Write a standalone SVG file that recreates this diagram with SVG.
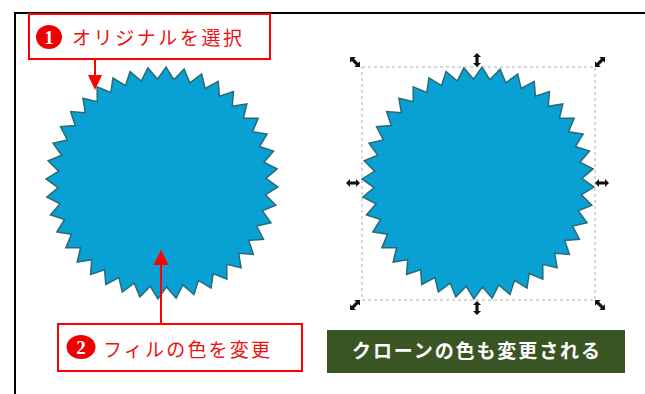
<svg xmlns="http://www.w3.org/2000/svg" xmlns:xlink="http://www.w3.org/1999/xlink" width="645" height="394" viewBox="0 0 645 394">
<style>
.frame{fill:none;stroke:#000;stroke-width:2}
.lbl{fill:#fff;stroke:#ff0000;stroke-width:2}
.lt{font-family:"Noto Sans CJK JP","Noto Sans",sans-serif;font-size:19px;fill:#ee1111}
.num{font-family:"Liberation Serif",serif;font-size:19px;font-weight:bold;fill:#fff;text-anchor:middle}
.star{fill:#09a0d3;stroke:#2a6a76;stroke-width:1.5;stroke-linejoin:miter}
.conn{stroke:#ff0000;stroke-width:2;fill:none}
.head{fill:#ff0000}
.sel{fill:none;stroke:#a8acc4;stroke-width:1;stroke-dasharray:3 3}
.hd{fill:#111}
.note{font-family:"Noto Sans CJK JP","Noto Sans",sans-serif;font-size:19px;font-weight:bold;fill:#fff;text-anchor:middle}
</style>
<defs>
<polygon id="starShape" points="0,-116 8.16,-103.68 18.15,-114.57 24.28,-101.13 35.85,-110.32 39.8,-96.08 52.66,-103.36 54.34,-88.67 68.18,-93.85 67.54,-79.08 82.02,-82.02 79.08,-67.54 93.85,-68.18 88.67,-54.34 103.36,-52.66 96.08,-39.8 110.32,-35.85 101.13,-24.28 114.57,-18.15 103.68,-8.16 116,0 103.68,8.16 114.57,18.15 101.13,24.28 110.32,35.85 96.08,39.8 103.36,52.66 88.67,54.34 93.85,68.18 79.08,67.54 82.02,82.02 67.54,79.08 68.18,93.85 54.34,88.67 52.66,103.36 39.8,96.08 35.85,110.32 24.28,101.13 18.15,114.57 8.16,103.68 0,116 -8.16,103.68 -18.15,114.57 -24.28,101.13 -35.85,110.32 -39.8,96.08 -52.66,103.36 -54.34,88.67 -68.18,93.85 -67.54,79.08 -82.02,82.02 -79.08,67.54 -93.85,68.18 -88.67,54.34 -103.36,52.66 -96.08,39.8 -110.32,35.85 -101.13,24.28 -114.57,18.15 -103.68,8.16 -116,0 -103.68,-8.16 -114.57,-18.15 -101.13,-24.28 -110.32,-35.85 -96.08,-39.8 -103.36,-52.66 -88.67,-54.34 -93.85,-68.18 -79.08,-67.54 -82.02,-82.02 -67.54,-79.08 -68.18,-93.85 -54.34,-88.67 -52.66,-103.36 -39.8,-96.08 -35.85,-110.32 -24.28,-101.13 -18.15,-114.57 -8.16,-103.68"/>
<polygon id="handle" class="hd" points="-7,0 -3,-4 -3,-1.6 3,-1.6 3,-4 7,0 3,4 3,1.6 -3,1.6 -3,4"/>
</defs>
<g id="frame">
<line class="frame" x1="15" y1="13" x2="645" y2="13"/>
<line class="frame" x1="15" y1="12" x2="15" y2="394"/>
</g>
<g id="star-original">
<use xlink:href="#starShape" class="star" transform="translate(162,183) rotate(2)"/>
</g>
<g id="star-clone">
<use xlink:href="#starShape" class="star" transform="translate(478,183) rotate(2)"/>
<rect class="sel" x="362" y="67" width="233" height="233"/>
<use xlink:href="#handle" transform="translate(355,62) rotate(45)"/>
<use xlink:href="#handle" transform="translate(600,62) rotate(-45)"/>
<use xlink:href="#handle" transform="translate(355,305) rotate(-45)"/>
<use xlink:href="#handle" transform="translate(600,305) rotate(45)"/>
<use xlink:href="#handle" transform="translate(477,60) rotate(90)"/>
<use xlink:href="#handle" transform="translate(477,308) rotate(90)"/>
<use xlink:href="#handle" transform="translate(353,183)"/>
<use xlink:href="#handle" transform="translate(602,183)"/>
</g>
<g id="label-select">
<rect class="lbl" x="29" y="14" width="241" height="45"/>
<ellipse cx="49" cy="37" rx="13" ry="12" fill="#ee0000"/>
<text class="num" x="49" y="43.5">1</text>
<text class="lt" x="72" y="45" textLength="170" lengthAdjust="spacing">オリジナルを選択</text>
</g>
<g id="label-color">
<rect class="lbl" x="58" y="324" width="244" height="47"/>
<ellipse cx="81" cy="347" rx="14.5" ry="12" fill="#ee0000"/>
<text class="num" x="81" y="353.5">2</text>
<text class="lt" x="103" y="357" textLength="167" lengthAdjust="spacing">フィルの色を変更</text>
</g>
<g id="note-clone">
<rect x="327" y="330" width="298" height="43" fill="#3a5524"/>
<text class="note" x="476" y="358" textLength="248" lengthAdjust="spacing">クローンの色も変更される</text>
</g>
<g id="connectors">
<line class="conn" x1="95" y1="59" x2="95" y2="76"/>
<polygon class="head" points="88,75 102,75 95,90"/>
<line class="conn" x1="161" y1="324" x2="161" y2="264"/>
<polygon class="head" points="153.5,265 168.5,265 161,250"/>
</g>
</svg>
